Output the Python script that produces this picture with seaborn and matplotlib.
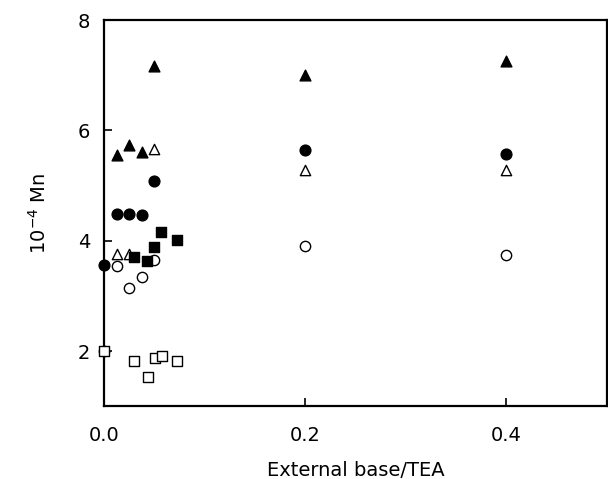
import matplotlib
matplotlib.use('Agg')
import matplotlib.pyplot as plt
import seaborn as sns
import pandas as pd

# values
tri_filled_x = [0.0125, 0.025, 0.0375, 0.05, 0.2, 0.4]
tri_filled_y = [5.55, 5.73, 5.60, 7.17, 7.00, 7.25]

tri_open_x = [0.0125, 0.025, 0.05, 0.2, 0.4]
tri_open_y = [3.76, 3.76, 5.66, 5.29, 5.28]

circ_filled_x = [0.0, 0.0125, 0.025, 0.0375, 0.05, 0.2, 0.4]
circ_filled_y = [3.56, 4.48, 4.48, 4.47, 5.09, 5.64, 5.58]

circ_open_x = [0.0, 0.0125, 0.025, 0.0375, 0.05, 0.2, 0.4]
circ_open_y = [2.0, 3.55, 3.14, 3.35, 3.65, 3.91, 3.75]

sq_filled_x = [0.03, 0.043, 0.05, 0.057, 0.073]
sq_filled_y = [3.70, 3.64, 3.89, 4.16, 4.02]

sq_open_x = [0.0, 0.03, 0.044, 0.051, 0.058, 0.073]
sq_open_y = [2.0, 1.82, 1.53, 1.88, 1.91, 1.82]

series = [
    (tri_filled_x, tri_filled_y, '^', 'black'),
    (tri_open_x, tri_open_y, '^', 'white'),
    (circ_filled_x, circ_filled_y, 'o', 'black'),
    (circ_open_x, circ_open_y, 'o', 'white'),
    (sq_filled_x, sq_filled_y, 's', 'black'),
    (sq_open_x, sq_open_y, 's', 'white'),
]

sns.set_style('ticks')
plt.rcParams['font.family'] = ['DejaVu Sans']
plt.rcParams['text.color'] = 'black'
plt.rcParams['axes.labelcolor'] = 'black'
plt.rcParams['xtick.color'] = 'black'
plt.rcParams['ytick.color'] = 'black'

fig = plt.figure(figsize=(6.08, 4.79), dpi=100)
ax = fig.add_axes([0.171, 0.152, 0.827, 0.806])

for xs, ys, m, fc in series:
    df = pd.DataFrame({'x': xs, 'y': ys})
    size = 60 if fc == 'black' else 55
    sns.scatterplot(data=df, x='x', y='y', marker=m, s=size, color=fc,
                    edgecolor='black', linewidth=1.0, ax=ax, zorder=3,
                    clip_on=False)

ax.set_xlim(0, 0.5)
ax.set_ylim(1, 8)
ax.set_xticks([0.0, 0.2, 0.4])
ax.set_xticklabels(['0.0', '0.2', '0.4'])
ax.set_yticks([2, 4, 6, 8])
ax.tick_params(direction='in', length=6, width=1.2, labelsize=14)
ax.tick_params(axis='x', pad=14)
ax.tick_params(axis='y', pad=10)
for sp in ax.spines.values():
    sp.set_visible(True)
    sp.set_linewidth(1.6)
    sp.set_color('black')

ax.set_xlabel('External base/TEA', fontsize=14, labelpad=12)
ax.set_ylabel(r'10$^{-4}$ Mn', fontsize=14, labelpad=20)

plt.savefig('out.png', dpi=100)
